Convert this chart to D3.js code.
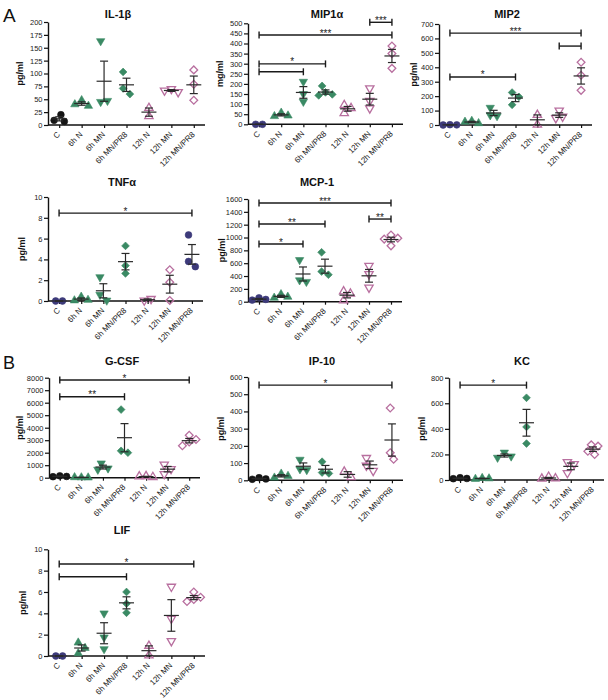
<!DOCTYPE html>
<html><head><meta charset="utf-8">
<script src="https://cdn.jsdelivr.net/npm/d3@7"></script>
<style>
body{margin:0;background:#fff}
svg{display:block}
text{font-family:"Liberation Sans",Arial,Helvetica,sans-serif}
</style>
</head><body>
<svg id="chart" width="608" height="700"></svg>
<script>
// ---------- DATA ----------
const categories = ["C","6h N","6h MN","6h MN/PR8","12h N","12h MN","12h MN/PR8"];

const il1bValues  = [[20,7,9],[48,37,40],[163,45,47],[103,71,60],[33,17],[70,64,67],[107,79,48]];
const mip1aValues = [[0,0],[57,43,40],[211,150,112],[190,158,143,148],[55,80,95],[178,116,79],[388,350,277]];
const mip2Values  = [[2,1,0],[28,12,22],[120,68,62],[225,195,140],[70,2],[100,58,48],[435,345,240]];
const tnfaValues  = [[0,0],[0.4,0.1,0.05],[2.3,0.6,0.05],[5.3,3.4,2.65],[0.05,0.2],[3.0,1.8,0.05],[6.35,3.8,3.3]];
const mcp1Values  = [[60,35,25],[115,75,60],[650,335,310],[770,470,420],[160,125,20],[560,430,220],[1040,990,975,870]];
const gcsfValues  = [[150,100,80],[20,10,30],[1150,750,650],[5450,2150,2000],[120,50,100],[1050,700,300],[3400,3050,2850,2550]];
const ip10Values  = [[15,8,6],[38,25,15],[120,65,60],[108,45,40],[50,18],[130,85,55],[420,160,122]];
const kcValues    = [[18,12,10],[15,12,8],[215,185,175],[643,415,285],[25,12,10],[140,125,55],[275,265,225,200]];
const lifValues   = [[0,0],[1.25,0.75,0.25],[4.0,1.75,0.65],[6.0,4.9,4.05],[0.95,0.05],[6.5,3.5,1.4],[6.0,5.5,5.3,5.1]];

const il1bTicks  = [0,25,50,75,100,125,150,175,200];
const mip1aTicks = [0,50,100,150,200,250,300,350,400,450,500];
const mip2Ticks  = [0,100,200,300,400,500,600,700];
const tnfaTicks  = [0,2,4,6,8,10];
const mcp1Ticks  = [0,200,400,600,800,1000,1200,1400,1600];
const gcsfTicks  = [0,1000,2000,3000,4000,5000,6000,7000,8000];
const ip10Ticks  = [0,100,200,300,400,500,600];
const kcTicks    = [0,200,400,600,800];
const lifTicks   = [0,2,4,6,8,10];

// significance brackets: [fromIndex, toIndex, value, label]
const il1bSig  = [];
const mip1aSig = [[5,6,505,"***"],[0,6,442,"***"],[0,3,299,"*"],[0,2,260,""]];
const mip2Sig  = [[0,6,637,"***"],[5,6,547,""],[0,3,333,"*"]];
const tnfaSig  = [[0,6,8.45,"*"]];
const mcp1Sig  = [[0,6,1537,"***"],[5,6,1288,"**"],[0,3,1210,"**"],[0,2,898,"*"]];
const gcsfSig  = [[0,6,7813,"*"],[0,3,6480,"**"]];
const ip10Sig  = [[0,6,553,"*"]];
const kcSig    = [[0,3,742,"*"]];
const lifSig   = [[0,6,8.62,"*"],[0,3,7.43,""]];

// ---------- STYLE ----------
const NAVY="#3d3a7a", BLACK="#151515", GREEN="#3a8a64", PINK="#b86f9f";
const defaultShapes = ["circle","up","down","diamond","up","down","diamond"];
const defaultOpen   = [false,false,false,false,true,true,true];
const tnfaShapes = ["circle","up","down","diamond","down","diamond","circle"];
const tnfaOpen   = [false,false,false,false,true,true,false];

function colorsFor(cCol, lastCol){
  return [cCol,GREEN,GREEN,GREEN,PINK,PINK,lastCol||PINK];
}

const panels = [
  {title:"IL-1\u03b2", ylab:"pg/ml", vals:il1bValues, ticks:il1bTicks, sig:il1bSig, x0:48, x1:205, yT:22, yB:125, tx:118, ty:15, ylx:21, cols:colorsFor(BLACK)},
  {title:"MIP1\u03b1", ylab:"mg/ml", vals:mip1aValues, ticks:mip1aTicks, sig:mip1aSig, x0:248, x1:403, yT:23.3, yB:124.3, tx:327, ty:15, ylx:221, cols:colorsFor(NAVY)},
  {title:"MIP2", ylab:"pg/ml", vals:mip2Values, ticks:mip2Ticks, sig:mip2Sig, x0:439, x1:592, yT:24, yB:125, tx:507, ty:15, ylx:415, cols:colorsFor(NAVY)},
  {title:"TNF\u03b1", ylab:"pg/ml", vals:tnfaValues, ticks:tnfaTicks, sig:tnfaSig, x0:48, x1:203, yT:197, yB:301, tx:122, ty:183, ylx:23, cols:colorsFor(NAVY,NAVY), shapes:tnfaShapes, open:tnfaOpen},
  {title:"MCP-1", ylab:"pg/ml", vals:mcp1Values, ticks:mcp1Ticks, sig:mcp1Sig, x0:248, x1:402, yT:199, yB:301.7, tx:317, ty:183, ylx:223, cols:colorsFor(NAVY)},
  {title:"G-CSF", ylab:"pg/ml", vals:gcsfValues, ticks:gcsfTicks, sig:gcsfSig, x0:49, x1:200, yT:377.7, yB:477.7, tx:122, ty:362, ylx:21, cols:colorsFor(BLACK)},
  {title:"IP-10", ylab:"pg/ml", vals:ip10Values, ticks:ip10Ticks, sig:ip10Sig, x0:248, x1:403, yT:377, yB:480.3, tx:322, ty:362, ylx:222, cols:colorsFor(BLACK)},
  {title:"KC", ylab:"pg/ml", vals:kcValues, ticks:kcTicks, sig:kcSig, x0:449, x1:604, yT:377.7, yB:480, tx:522, ty:362, ylx:423, cols:colorsFor(BLACK)},
  {title:"LIF", ylab:"pg/ml", vals:lifValues, ticks:lifTicks, sig:lifSig, x0:48, x1:205, yT:549.3, yB:656, tx:122, ty:531, ylx:24, cols:colorsFor(NAVY)}
];

const svg = d3.select("#chart");

svg.append("text").attr("x",3).attr("y",22).attr("font-size",19).attr("fill","#111").text("A");
svg.append("text").attr("x",3).attr("y",369).attr("font-size",18).attr("fill","#111").text("B");

function symbolPath(shape){
  if(shape==="circle") return d3.symbol().type(d3.symbolCircle).size(36)();
  if(shape==="up" || shape==="down") return d3.symbol().type(d3.symbolTriangle).size(30)();
  return d3.symbol().type(d3.symbolSquare).size(30)();
}
function symbolRot(shape){
  if(shape==="down") return 180;
  if(shape==="diamond") return 45;
  return 0;
}

function swarm(vals, y, d){
  const placed=[];
  vals.forEach(v=>{
    const py=y(v);
    const cands=[0];
    for(let k=1;k<8;k++){cands.push(k*d*0.5, -k*d*0.5);}
    for(const c of cands){
      if(placed.every(p=>Math.hypot(p.dx-c,p.py-py)>=d)){placed.push({v,py,dx:c});break;}
    }
  });
  const mn=d3.min(placed,p=>p.dx), mx=d3.max(placed,p=>p.dx);
  const sh=-(mn+mx)/2;
  placed.forEach(p=>p.dx+=sh);
  return placed;
}

panels.forEach(P=>{
  const g = svg.append("g");
  const maxV = d3.max(P.ticks);
  const y = d3.scaleLinear().domain([0,maxV]).range([P.yB,P.yT]);
  const x = d3.scalePoint().domain(categories).range([P.x0,P.x1]).padding(0.5);
  const shapes = P.shapes || defaultShapes;
  const open = P.open || defaultOpen;

  // title
  g.append("text").attr("x",P.tx).attr("y",P.ty).attr("text-anchor","middle")
    .attr("dominant-baseline","middle").attr("font-size",11).attr("font-weight","bold")
    .attr("fill","#111").text(P.title);

  // y label
  g.append("text").attr("transform",`translate(${P.ylx},${(P.yT+P.yB)/2}) rotate(-90)`)
    .attr("text-anchor","middle").attr("dominant-baseline","middle")
    .attr("font-size",9).attr("font-weight","bold").attr("fill","#111").text(P.ylab);

  // y axis
  const ya = g.append("g").attr("transform",`translate(${P.x0},0)`)
    .call(d3.axisLeft(y).tickValues(P.ticks).tickSize(4).tickPadding(1.5).tickSizeOuter(0).tickFormat(d3.format("d")));
  ya.select(".domain").attr("stroke","#111").attr("stroke-width",1.4);
  ya.selectAll(".tick line").attr("stroke","#111").attr("stroke-width",1.2);
  ya.selectAll(".tick text").attr("font-size",7.5).attr("fill","#222")
    .style("font-family","'Liberation Sans',Arial,sans-serif");

  // x axis
  const xa = g.append("g").attr("transform",`translate(0,${P.yB})`)
    .call(d3.axisBottom(x).tickSize(3).tickSizeOuter(0));
  xa.select(".domain").attr("stroke","#111").attr("stroke-width",1.4)
    .attr("d",`M${P.x0},0H${P.x1}`);
  xa.selectAll(".tick line").attr("stroke","#111").attr("stroke-width",1.2);
  xa.selectAll(".tick text").attr("font-size",8).attr("fill","#222")
    .style("font-family","'Liberation Sans',Arial,sans-serif")
    .attr("x",0).attr("y",0).attr("dy","0.35em")
    .attr("transform","translate(-1,8) rotate(-45)")
    .style("text-anchor","end");

  // points
  P.vals.forEach((vals,i)=>{
    const cx = x(categories[i]);
    const pts = swarm(vals, y, 6.8);
    const col = P.cols[i];
    g.append("g").selectAll("path").data(pts).join("path")
      .attr("d",symbolPath(shapes[i]))
      .attr("transform",p=>`translate(${cx+p.dx},${p.py}) rotate(${symbolRot(shapes[i])})`)
      .attr("fill",open[i]?"none":col)
      .attr("stroke",col)
      .attr("stroke-width",open[i]?1.3:0.6);
  });

  // mean +/- SEM
  P.vals.forEach((vals,i)=>{
    const cx = x(categories[i]);
    const m = d3.mean(vals);
    const s = vals.length>1 ? d3.deviation(vals)/Math.sqrt(vals.length) : 0;
    const eg = g.append("g").attr("stroke","#2a2a2a").attr("stroke-width",1.2).attr("fill","none");
    eg.append("line").attr("x1",cx-7.5).attr("x2",cx+7.5).attr("y1",y(m)).attr("y2",y(m));
    eg.append("line").attr("x1",cx).attr("x2",cx).attr("y1",y(m+s)).attr("y2",y(Math.max(0,m-s)));
    eg.append("line").attr("x1",cx-4).attr("x2",cx+4).attr("y1",y(m+s)).attr("y2",y(m+s));
    eg.append("line").attr("x1",cx-4).attr("x2",cx+4).attr("y1",y(Math.max(0,m-s))).attr("y2",y(Math.max(0,m-s)));
  });

  // significance brackets
  P.sig.forEach(([a,b,v,lab])=>{
    const xa1 = x(categories[a]), xb1 = x(categories[b]), yy = y(v);
    const bg = g.append("g").attr("stroke","#1a1a1a").attr("stroke-width",1.4);
    bg.append("line").attr("x1",xa1).attr("x2",xb1).attr("y1",yy).attr("y2",yy);
    bg.append("line").attr("x1",xa1).attr("x2",xa1).attr("y1",yy-3.5).attr("y2",yy+3.5);
    bg.append("line").attr("x1",xb1).attr("x2",xb1).attr("y1",yy-3.5).attr("y2",yy+3.5);
    if(lab){
      g.append("text").attr("x",(xa1+xb1)/2).attr("y",yy+1.5).attr("text-anchor","middle")
        .attr("font-size",10).attr("fill","#222").text(lab);
    }
  });
});
</script>
</body></html>
